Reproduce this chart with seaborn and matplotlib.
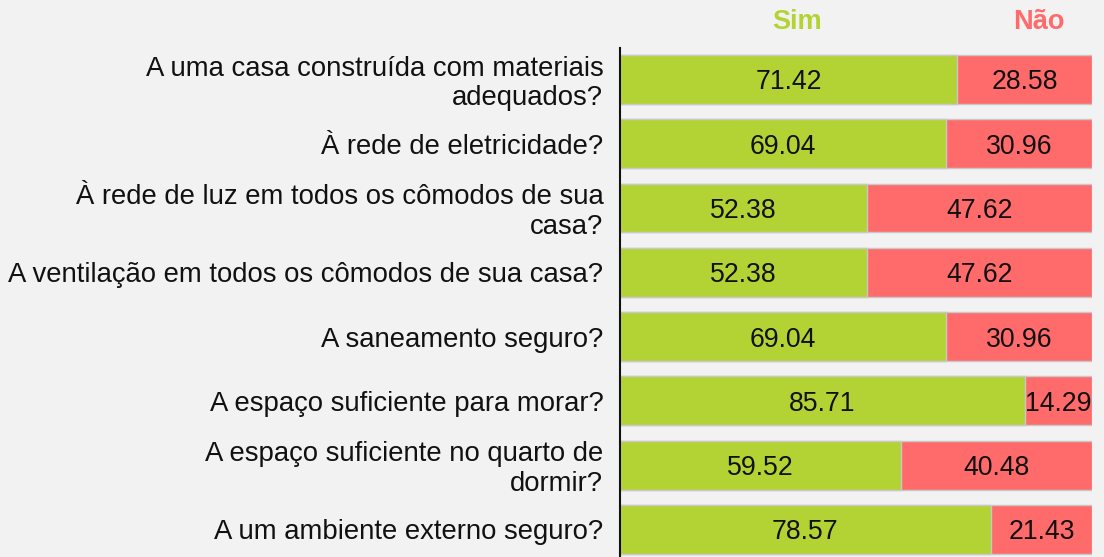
import matplotlib
matplotlib.use("Agg")
import matplotlib.pyplot as plt
import matplotlib.transforms as mtransforms
import seaborn as sns
import pandas as pd
import numpy as np

categories = [
    "A uma casa construída com materiais\nadequados?",
    "À rede de eletricidade?",
    "À rede de luz em todos os cômodos de sua\ncasa?",
    "A ventilação em todos os cômodos de sua casa?",
    "A saneamento seguro?",
    "A espaço suficiente para morar?",
    "A espaço suficiente no quarto de\ndormir?",
    "A um ambiente externo seguro?",
]
sim = [71.42, 69.04, 52.38, 52.38, 69.04, 85.71, 59.52, 78.57]
nao = [28.58, 30.96, 47.62, 47.62, 30.96, 14.29, 40.48, 21.43]
series_names = ["Sim", "Não"]

GREEN = "#b3d335"
RED = "#ff6b6b"
BG = "#f2f2f2"

sns.set_theme(style="white")
plt.rcParams["font.family"] = ["Liberation Sans", "DejaVu Sans"]

df = pd.DataFrame({"cat": categories, "sim": sim, "nao": nao})
df["total"] = df["sim"] + df["nao"]

fig = plt.figure(figsize=(11.04, 5.57), dpi=100, facecolor=BG)
ax = fig.add_axes([620 / 1104, 0.0, (1092 - 620) / 1104, 1 - 48 / 557])
ax.set_facecolor(BG)

sns.barplot(data=df, x="total", y="cat", color=RED, saturation=1, width=0.76,
            edgecolor="#c8c8c8", linewidth=1, ax=ax, orient="h")
sns.barplot(data=df, x="sim", y="cat", color=GREEN, saturation=1, width=0.76,
            edgecolor="#c8c8c8", linewidth=1, ax=ax, orient="h")

for i, (s, n) in enumerate(zip(sim, nao)):
    ax.text(s / 2, i, f"{s:.2f}", ha="center", va="center_baseline", fontsize=19.2, color="#111111")
    ax.text(s + n / 2, i, f"{n:.2f}", ha="center", va="center_baseline", fontsize=19.2, color="#111111")

ax.set_xlim(0, 100)
ax.set_ylim(7.43, -0.49)
ax.set_xlabel("")
ax.set_ylabel("")
ax.set_xticks([])
ax.tick_params(axis="y", length=0, pad=12, labelsize=19.8, labelcolor="#111111")
shift = mtransforms.ScaledTranslation(0, -4 / 100, fig.dpi_scale_trans)
for lab in ax.get_yticklabels():
    lab.set_horizontalalignment("right")
    lab.set_multialignment("right")
    if "\n" in lab.get_text():
        lab.set_verticalalignment("center")
        lab.set_linespacing(1.17)
        lab.set_transform(lab.get_transform() + shift)
    else:
        lab.set_verticalalignment("center_baseline")
for sp in ["top", "right", "bottom"]:
    ax.spines[sp].set_visible(False)
ax.spines["left"].set_color("#111111")
ax.spines["left"].set_linewidth(1.5)

fig.text(797 / 1104, 1 - 19 / 557, series_names[0], color=GREEN, fontsize=19.5,
         fontweight="bold", ha="center", va="center_baseline")
fig.text(1039 / 1104, 1 - 19 / 557, series_names[1], color=RED, fontsize=19.5,
         fontweight="bold", ha="center", va="center_baseline")

fig.savefig("out.png", dpi=100, facecolor=BG)
